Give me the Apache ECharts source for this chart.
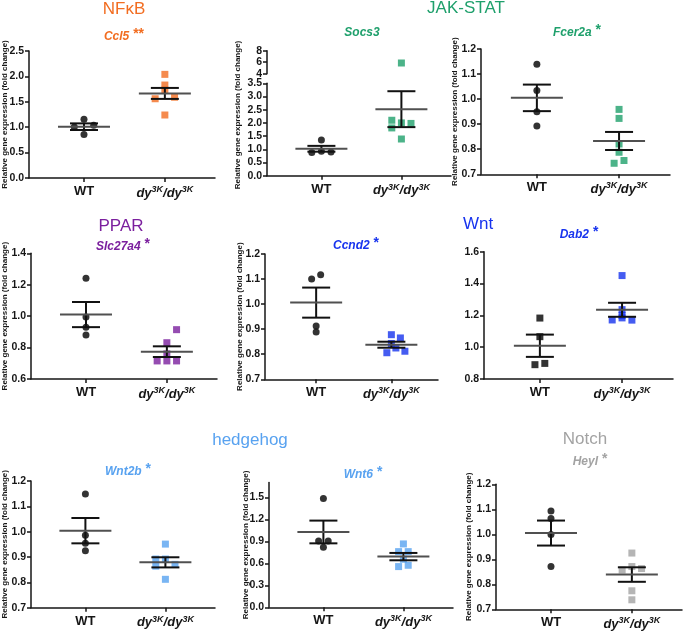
<!DOCTYPE html>
<html lang="en">
<head>
    <meta charset="UTF-8"/>
    <title>pathway genes</title>
    <script src="https://cdn.jsdelivr.net/npm/echarts@6.0.0/dist/echarts.min.js"></script>
</head>
<body style="margin:0;background:#fff">
<div id="main" style="width:685px;height:632px;"></div>

<script type="text/javascript">
    // groups on the x axis: 1 = WT, 2 = dy3K/dy3K
    var groupX = [1, 2];

    // values (fold change); *Col = column offset of the dot in the swarm
    var ccl5Wt = [1.155, 1.005, 1.038, 0.855];
    var ccl5Dy = [2.04, 1.83, 1.73, 1.56, 1.59, 1.24];
    var ccl5WtCol = [0, -1, 1, 0];
    var ccl5DyCol = [0, 0, 0, -1, 1, 0];
    var ccl5Mean = [1.01, 1.665];
    var ccl5Sem = [0.065, 0.108];

    var socs3Wt = [1.35, 0.88, 0.93, 0.90];
    var socs3Dy = [5.86, 2.10, 2.0, 1.98, 1.81, 1.39];
    var socs3WtCol = [0, -1, 0, 1];
    var socs3DyCol = [0, -1, 0, 1, -1, 0];
    var socs3Mean = [1.02, 2.52];
    var socs3Sem = [0.11, 0.68];

    var fcer2aWt = [1.139, 1.034, 0.950, 0.893];
    var fcer2aDy = [0.959, 0.923, 0.821, 0.788, 0.744, 0.755];
    var fcer2aWtCol = [0, 0, 0, 0];
    var fcer2aDyCol = [0, 0, 0, 0, -0.5, 0.5];
    var fcer2aMean = [1.005, 0.833];
    var fcer2aSem = [0.053, 0.036];

    var slc27a4Wt = [1.241, 0.995, 0.93, 0.88];
    var slc27a4Dy = [0.914, 0.831, 0.76, 0.715, 0.715, 0.715];
    var slc27a4WtCol = [0, 0, 0, 0];
    var slc27a4DyCol = [1, 0, 0, -1, 0, 1];
    var slc27a4Mean = [1.01, 0.774];
    var slc27a4Sem = [0.08, 0.034];

    var ccnd2Wt = [1.100, 1.117, 0.913, 0.889];
    var ccnd2Dy = [0.878, 0.865, 0.843, 0.825, 0.812, 0.806];
    var ccnd2WtCol = [-0.5, 0.5, 0, 0];
    var ccnd2DyCol = [0, 1, 0, 0.5, 1.5, -0.5];
    var ccnd2Mean = [1.006, 0.838];
    var ccnd2Sem = [0.06, 0.012];

    var dab2Wt = [1.183, 1.066, 0.890, 0.898];
    var dab2Dy = [1.45, 1.236, 1.199, 1.184, 1.171, 1.17];
    var dab2WtCol = [0, 0, -0.5, 0.5];
    var dab2DyCol = [0, 0, 0, 0, -1, 1];
    var dab2Mean = [1.009, 1.235];
    var dab2Sem = [0.07, 0.044];

    var wnt2bWt = [1.149, 0.986, 0.954, 0.925];
    var wnt2bDy = [0.951, 0.892, 0.892, 0.871, 0.864, 0.812];
    var wnt2bWtCol = [0, 0, 0, 0];
    var wnt2bDyCol = [0, -1, 0, 1, -1, 0];
    var wnt2bMean = [1.004, 0.879];
    var wnt2bSem = [0.05, 0.02];

    var wnt6Wt = [1.482, 0.905, 0.905, 0.818];
    var wnt6Dy = [0.864, 0.759, 0.759, 0.655, 0.555, 0.573];
    var wnt6WtCol = [0, -0.5, 0.5, 0];
    var wnt6DyCol = [0, -0.5, 0.5, 0, -0.5, 0.5];
    var wnt6Mean = [1.027, 0.691];
    var wnt6Sem = [0.155, 0.05];

    var heylWt = [1.093, 1.063, 0.999, 0.871];
    var heylDy = [0.925, 0.857, 0.871, 0.863, 0.774, 0.738];
    var heylWtCol = [0, 0, 0, 0];
    var heylDyCol = [0, -1, 0, 1, 0, 0];
    var heylMean = [1.005, 0.839];
    var heylSem = [0.05, 0.029];

    var wnt6Ticks = [0, 0.3, 0.6, 0.9, 1.2, 1.5];

    var FONT = 'Liberation Sans, Arial, sans-serif';
    var INK = '#161616';
    var ORANGE = '#f26d21', GREEN = '#1fa06c', PURPLE = '#7b1f9e',
        BLUE = '#1733ee', LBLUE = '#58a2f0', GREY = '#a3a3a3';
    var STEP = 0.12;      // swarm column width in x units
    var MEAN_HALF = 26;   // px
    var CAP_HALF = 14;    // px
    var YNAME = 'Relative gene expression (fold change)';

    var panels = [
        {gene: 'Ccl5', star: '**', color: ORANGE, wt: ccl5Wt, dy: ccl5Dy, wtCol: ccl5WtCol, dyCol: ccl5DyCol,
            mean: ccl5Mean, sem: ccl5Sem, y: [0, 2.5, 0.5], box: [29, 51, 186, 127], nameGap: 20, title: [124, 37]},
        {gene: 'Socs3', star: '', color: GREEN, wt: socs3Wt, dy: socs3Dy, wtCol: socs3WtCol, dyCol: socs3DyCol,
            mean: socs3Mean, sem: socs3Sem, y: [0, 3.5, 0.5], box: [267, 83.3, 184, 92.4], nameGap: 22, title: [362, 33],
            upper: {y: [4, 8, 2], box: [267, 50.7, 184, 23]}},
        {gene: 'Fcer2a', star: '*', color: GREEN, wt: fcer2aWt, dy: fcer2aDy, wtCol: fcer2aWtCol, dyCol: fcer2aDyCol,
            mean: fcer2aMean, sem: fcer2aSem, y: [0.7, 1.2, 0.1], box: [481, 49, 189, 125.3], nameGap: 22, title: [577, 33]},
        {gene: 'Slc27a4', star: '*', color: PURPLE, wt: slc27a4Wt, dy: slc27a4Dy, wtCol: slc27a4WtCol, dyCol: slc27a4DyCol,
            mean: slc27a4Mean, sem: slc27a4Sem, y: [0.6, 1.4, 0.2], box: [31, 253.3, 186, 125.7], nameGap: 22, title: [123, 247]},
        {gene: 'Ccnd2', star: '*', color: BLUE, wt: ccnd2Wt, dy: ccnd2Dy, wtCol: ccnd2WtCol, dyCol: ccnd2DyCol,
            mean: ccnd2Mean, sem: ccnd2Sem, y: [0.7, 1.2, 0.1], box: [265, 254, 173, 125.3], nameGap: 21, title: [356, 246]},
        {gene: 'Dab2', star: '*', color: BLUE, wt: dab2Wt, dy: dab2Dy, wtCol: dab2WtCol, dyCol: dab2DyCol,
            mean: dab2Mean, sem: dab2Sem, y: [0.8, 1.6, 0.2], box: [484, 251.7, 189, 127.3], nameGap: 0, title: [579, 235],
            wtSymbol: 'rect', noName: true},
        {gene: 'Wnt2b', star: '*', color: LBLUE, wt: wnt2bWt, dy: wnt2bDy, wtCol: wnt2bWtCol, dyCol: wnt2bDyCol,
            mean: wnt2bMean, sem: wnt2bSem, y: [0.7, 1.2, 0.1], box: [31, 481, 184, 126.7], nameGap: 22, title: [128, 472]},
        {gene: 'Wnt6', star: '*', color: LBLUE, wt: wnt6Wt, dy: wnt6Dy, wtCol: wnt6WtCol, dyCol: wnt6DyCol,
            mean: wnt6Mean, sem: wnt6Sem, y: [0, 1.7, null], ticks: wnt6Ticks, box: [269, 482.6, 184, 124.7], nameGap: 19, title: [363, 475]},
        {gene: 'Heyl', star: '*', color: GREY, wt: heylWt, dy: heylDy, wtCol: heylWtCol, dyCol: heylDyCol,
            mean: heylMean, sem: heylSem, y: [0.7, 1.2, 0.1], box: [496, 484.3, 186, 125], nameGap: 23, title: [590, 462]}
    ];

    var pathways = [
        {text: 'NFκB', color: ORANGE, x: 124, y: 9},
        {text: 'JAK-STAT', color: GREEN, x: 466, y: 8},
        {text: 'PPAR', color: PURPLE, x: 121, y: 226},
        {text: 'Wnt', color: BLUE, x: 478, y: 224},
        {text: 'hedgehog', color: LBLUE, x: 250, y: 440},
        {text: 'Notch', color: GREY, x: 585, y: 439}
    ];

    function xLabel(v) {
        if (v === 1) return '{n|WT}';
        return '{i|dy}{s|3K}{i|/dy}{s|3K}';
    }

    function renderErr(params, api) {
        var x = api.value(0), m = api.value(1), s = api.value(2);
        var c = api.coord([x, m]), t = api.coord([x, m + s]), b = api.coord([x, m - s]);
        var st = {stroke: '#111', lineWidth: 2};
        return {
            type: 'group',
            children: [
                {type: 'line', shape: {x1: t[0], y1: t[1], x2: b[0], y2: b[1]}, style: st},
                {type: 'line', shape: {x1: t[0] - CAP_HALF, y1: t[1], x2: t[0] + CAP_HALF, y2: t[1]}, style: st},
                {type: 'line', shape: {x1: b[0] - CAP_HALF, y1: b[1], x2: b[0] + CAP_HALF, y2: b[1]}, style: st},
                {type: 'line', shape: {x1: c[0] - MEAN_HALF, y1: c[1], x2: c[0] + MEAN_HALF, y2: c[1]},
                    style: {stroke: '#505050', lineWidth: 2}}
            ]
        };
    }

    function makeY(gi, range, ticks, dec) {
        var ax = {
            gridIndex: gi, type: 'value', min: range[0], max: range[1],
            axisLine: {show: true, lineStyle: {color: INK, width: 1.5}},
            axisTick: {show: true, length: 4, lineStyle: {color: INK, width: 1.5}},
            axisLabel: {color: INK, fontSize: 10.5, fontWeight: 'bold', fontFamily: FONT, margin: 5,
                formatter: function (v) { return v.toFixed(dec); }},
            splitLine: {show: false}
        };
        if (range[2] != null) ax.interval = range[2];
        if (ticks) {
            ax.axisTick.customValues = ticks;
            ax.axisLabel.customValues = ticks;
        }
        return ax;
    }

    function makeX(gi, show) {
        return {
            gridIndex: gi, type: 'value', min: 0.32, max: 2.62, show: show,
            axisLine: {show: true, onZero: false, lineStyle: {color: INK, width: 1.5}},
            axisTick: {show: true, customValues: groupX, length: 4, lineStyle: {color: INK, width: 1.5}},
            axisLabel: {
                customValues: groupX, formatter: xLabel, margin: 7,
                rich: {
                    n: {fontSize: 13, fontWeight: 'bold', color: INK, fontFamily: FONT},
                    i: {fontSize: 13, fontWeight: 'bold', fontStyle: 'italic', color: INK, fontFamily: FONT},
                    s: {fontSize: 9, fontWeight: 'bold', fontStyle: 'italic', color: INK, fontFamily: FONT,
                        verticalAlign: 'top', padding: [0, 0, 7, 0]}
                }
            },
            splitLine: {show: false}
        };
    }

    var grids = [], xAxes = [], yAxes = [], series = [], graphics = [];

    function pts(vals, cols, g, keep) {
        var out = [];
        for (var i = 0; i < vals.length; i++) {
            if (keep(vals[i])) out.push([groupX[g] + cols[i] * STEP, vals[i]]);
        }
        return out;
    }

    panels.forEach(function (p) {
        var gi = grids.length;
        grids.push({left: p.box[0], top: p.box[1], width: p.box[2], height: p.box[3], containLabel: false, outerBoundsMode: 'none'});
        xAxes.push(makeX(gi, true));
        var yax = makeY(gi, p.y, p.ticks, 1);
        if (!p.noName && !p.upper) {
            yax.name = YNAME;
            yax.nameLocation = 'middle';
            yax.nameGap = p.nameGap;
            yax.nameMoveOverlap = false;
            yax.nameTextStyle = {fontSize: 8, fontWeight: 'bold', color: INK, fontFamily: FONT};
        }
        yAxes.push(yax);

        var inLow = function (v) { return v <= p.y[1]; };
        series.push({type: 'scatter', xAxisIndex: gi, yAxisIndex: gi, symbol: p.wtSymbol || 'circle',
            symbolSize: 7, itemStyle: {color: '#000'}, data: pts(p.wt, p.wtCol, 0, inLow), z: 2});
        series.push({type: 'scatter', xAxisIndex: gi, yAxisIndex: gi, symbol: 'rect', symbolSize: 7,
            itemStyle: {color: p.color}, data: pts(p.dy, p.dyCol, 1, inLow), z: 2});
        series.push({type: 'custom', xAxisIndex: gi, yAxisIndex: gi, renderItem: renderErr, z: 3,
            data: [[groupX[0], p.mean[0], p.sem[0]], [groupX[1], p.mean[1], p.sem[1]]]});

        if (p.upper) {
            var ui = grids.length;
            var u = p.upper;
            grids.push({left: u.box[0], top: u.box[1], width: u.box[2], height: u.box[3], containLabel: false, outerBoundsMode: 'none'});
            xAxes.push(makeX(ui, false));
            yAxes.push(makeY(ui, u.y, null, 0));
            var inUp = function (v) { return v >= u.y[0]; };
            series.push({type: 'scatter', xAxisIndex: ui, yAxisIndex: ui, symbol: 'circle', symbolSize: 7,
                itemStyle: {color: '#000'}, data: pts(p.wt, p.wtCol, 0, inUp)});
            series.push({type: 'scatter', xAxisIndex: ui, yAxisIndex: ui, symbol: 'rect', symbolSize: 7,
                itemStyle: {color: p.color}, data: pts(p.dy, p.dyCol, 1, inUp)});
            // axis name spans both pieces of the broken axis
            graphics.push({type: 'text', x: p.box[0] - 29, y: 115, rotation: Math.PI / 2,
                style: {text: YNAME, align: 'center', verticalAlign: 'middle',
                    font: 'bold 8px ' + FONT, fill: INK}});
        }

        graphics.push({type: 'text', x: p.title[0], y: p.title[1],
            style: {
                text: '{g|' + p.gene + '}' + (p.star ? '{s| ' + p.star + '}' : ''),
                align: 'center', verticalAlign: 'middle',
                rich: {
                    g: {fontSize: 12, fontWeight: 'bold', fontStyle: 'italic', fill: p.color, fontFamily: FONT},
                    s: {fontSize: 14, fontWeight: 'bold', fill: p.color, fontFamily: FONT, padding: [0, 0, 6, 0]}
                }
            }});
    });

    pathways.forEach(function (t) {
        graphics.push({type: 'text', x: t.x, y: t.y,
            style: {text: t.text, align: 'center', verticalAlign: 'middle', font: '17px ' + FONT, fill: t.color}});
    });

    var myChart = echarts.init(document.getElementById('main'));
    var option = {
        backgroundColor: '#fff',
        animation: false,
        grid: grids,
        xAxis: xAxes,
        yAxis: yAxes,
        series: series,
        graphic: graphics
    };
    myChart.setOption(option);
</script>
</body>
</html>
